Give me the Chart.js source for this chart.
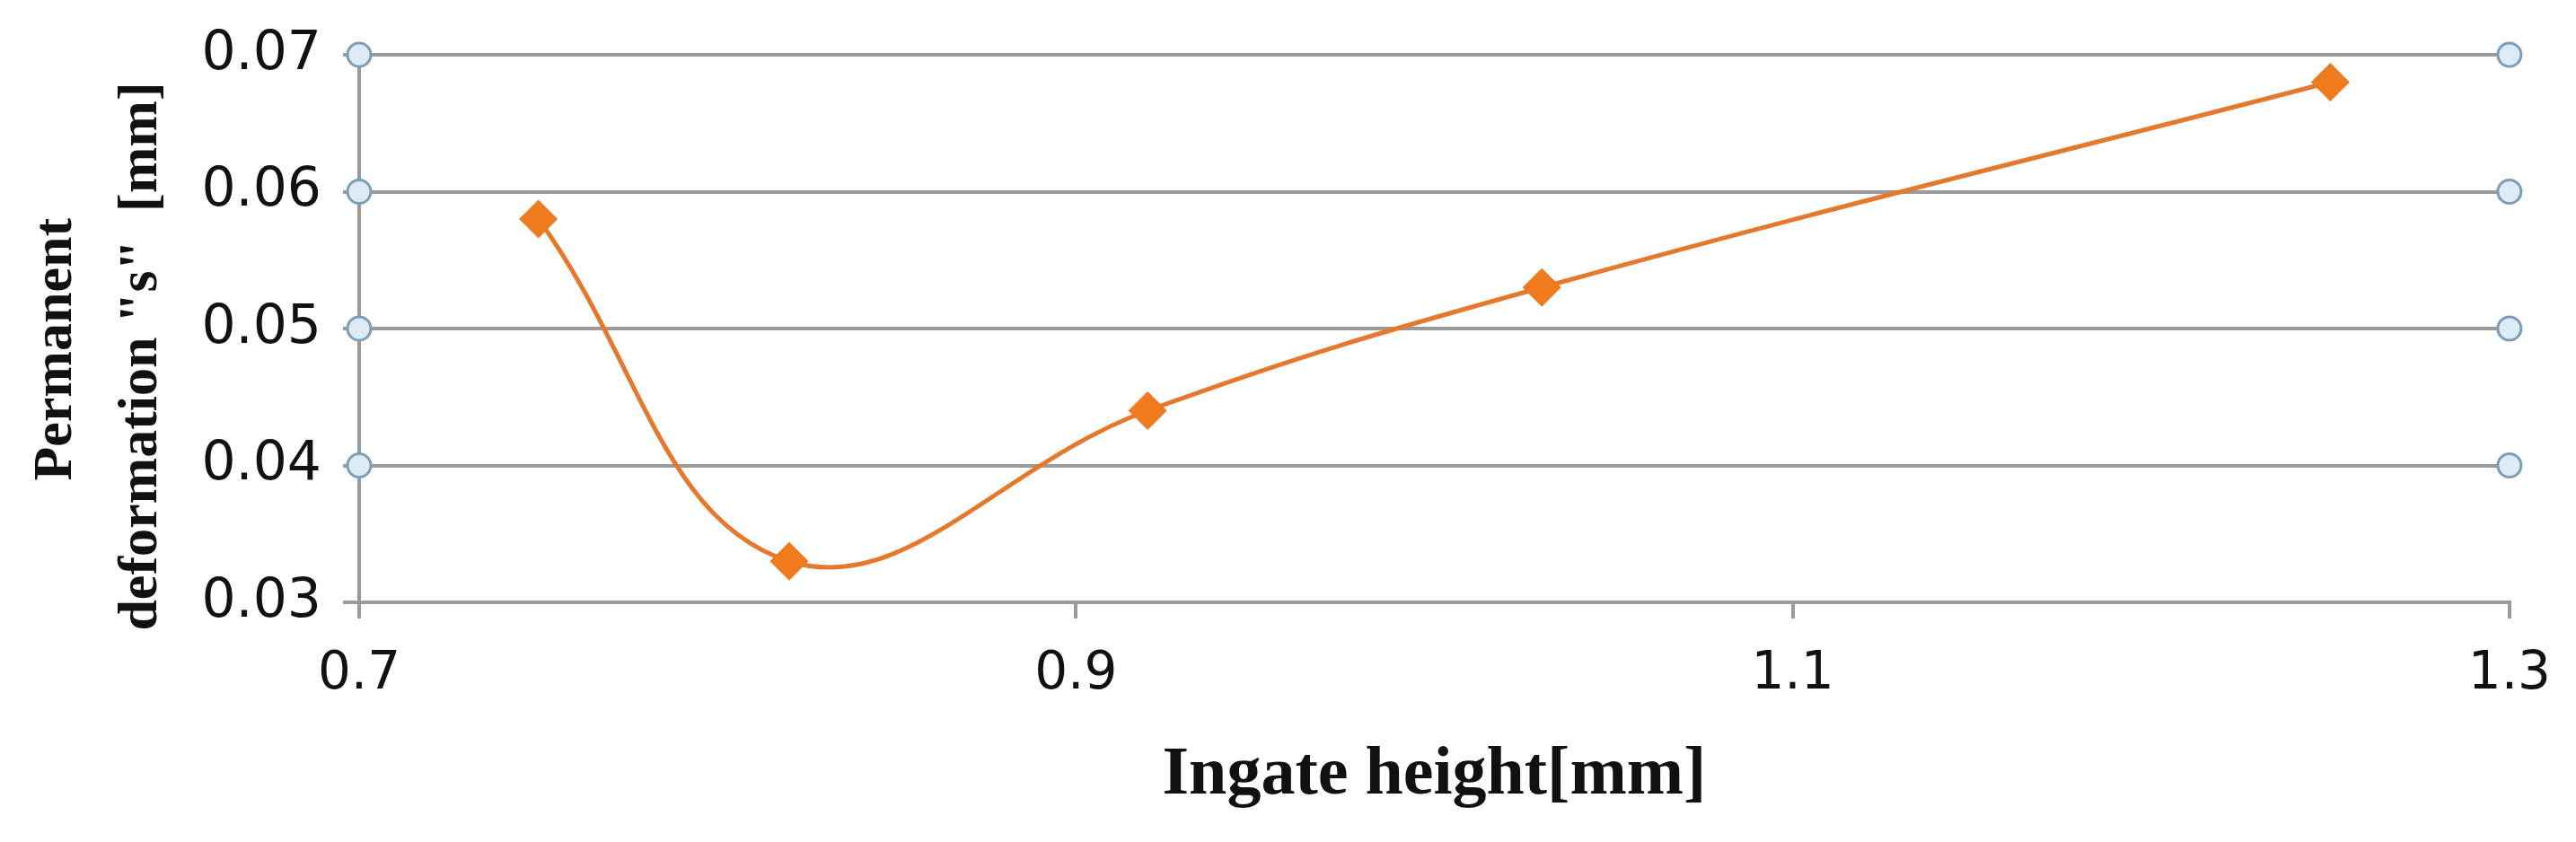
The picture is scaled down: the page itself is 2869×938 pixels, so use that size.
<!DOCTYPE html>
<html>
<head>
<meta charset="utf-8">
<script src="https://cdn.jsdelivr.net/npm/chart.js@4.4.1/dist/chart.umd.min.js"></script>
<style>
  html, body { margin: 0; padding: 0; background: #ffffff; }
  #wrap { width: 2869px; height: 938px; }
</style>
</head>
<body>
<div id="wrap"><canvas id="c" width="2869" height="938"></canvas></div>
<script>
// ---- data ----
const ingateHeight = [0.75, 0.82, 0.92, 1.03, 1.25];
const deformation  = [0.058, 0.033, 0.044, 0.053, 0.068];
const markerX = [0.7, 1.3];
const markerY = [0.04, 0.05, 0.06, 0.07];
const xTicks = [0.7, 0.9, 1.1, 1.3];
const yTicks = [0.03, 0.04, 0.05, 0.06, 0.07];
const xTitle = 'Ingate height[mm]';
const yTitle = ['Permanent   ', 'deformation "s"  [mm]    '];

const mainPoints = ingateHeight.map((x, i) => ({ x: x, y: deformation[i] }));
const sidePoints = [];
markerX.forEach(x => markerY.forEach(y => sidePoints.push({ x: x, y: y })));

const gridColor = '#9a9a9a';

new Chart(document.getElementById('c'), {
  type: 'scatter',
  data: {
    datasets: [
      {
        label: 'Permanent deformation',
        data: mainPoints,
        showLine: true,
        tension: 0.4,
        borderColor: '#e4782c',
        borderWidth: 5,
        pointStyle: 'rectRot',
        pointRadius: 21,
        pointBackgroundColor: '#f07a1e',
        pointBorderColor: '#e0762a',
        pointBorderWidth: 1,
        order: 1
      },
      {
        label: 'axis markers',
        data: sidePoints,
        showLine: false,
        pointStyle: 'circle',
        pointRadius: 13,
        pointBackgroundColor: '#dcebf5',
        pointBorderColor: '#7d9db4',
        pointBorderWidth: 3,
        clip: false,
        order: 2
      }
    ]
  },
  options: {
    responsive: false,
    animation: false,
    devicePixelRatio: 1,
    layout: { padding: { left: 0, right: 70, top: 61, bottom: 0 } },
    plugins: {
      legend: { display: false },
      tooltip: { enabled: false }
    },
    scales: {
      x: {
        type: 'linear',
        min: 0.7,
        max: 1.3,
        afterBuildTicks: s => { s.ticks = xTicks.map(v => ({ value: v })); },
        afterFit: s => { s.height = 267; },
        grid: {
          drawOnChartArea: false,
          drawTicks: true,
          tickLength: 18,
          color: gridColor,
          lineWidth: 4
        },
        border: { display: true, color: gridColor, width: 4 },
        ticks: {
          padding: 28,
          color: '#111111',
          font: { family: 'DejaVu Sans', size: 58 },
          maxRotation: 0,
          callback: v => Number(v).toFixed(1)
        },
        title: {
          display: true,
          text: xTitle,
          color: '#111111',
          font: { family: 'Liberation Serif', size: 76, weight: 'bold' },
          padding: { top: 0, bottom: 28 }
        }
      },
      y: {
        type: 'linear',
        min: 0.03,
        max: 0.07,
        afterBuildTicks: s => { s.ticks = yTicks.map(v => ({ value: v })); },
        afterFit: s => { s.width = 400; },
        grid: {
          drawOnChartArea: true,
          drawTicks: true,
          tickLength: 18,
          color: gridColor,
          lineWidth: 4
        },
        border: { display: true, color: gridColor, width: 4 },
        ticks: {
          padding: 24,
          color: '#111111',
          font: { family: 'DejaVu Sans', size: 60 },
          callback: v => Number(v).toFixed(2)
        },
        title: {
          display: true,
          text: yTitle,
          color: '#111111',
          font: { family: 'Liberation Serif', size: 62, weight: 'bold', lineHeight: 1.53 },
          padding: { top: 16, bottom: 0 }
        }
      }
    }
  }
});
</script>
</body>
</html>
